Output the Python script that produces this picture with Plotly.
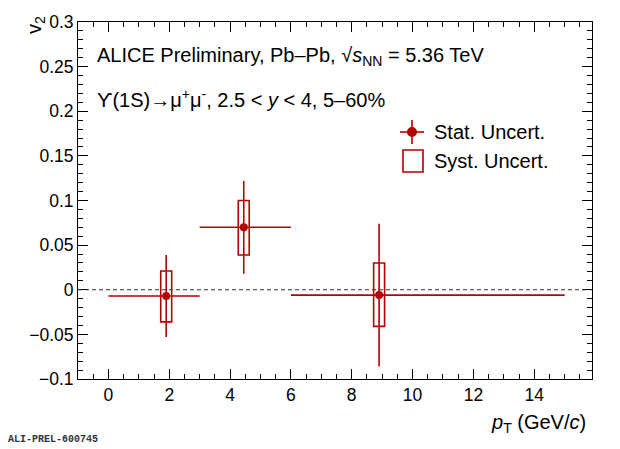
import plotly.graph_objects as go

pt = [1.9, 4.45, 8.9]
pt_lo = [0.0, 3.0, 6.0]
pt_hi = [3.0, 6.0, 15.0]
v2 = [-0.007, 0.070, -0.006]
stat = [0.046, 0.052, 0.080]
syst_lo = [-0.036, 0.039, -0.041]
syst_hi = [0.021, 0.100, 0.030]
syst_hw = 0.18

y_ticks = [-0.1, -0.05, 0, 0.05, 0.1, 0.15, 0.2, 0.25, 0.3]
y_labels = ["−0.1", "−0.05", "0", "0.05", "0.1", "0.15", "0.2", "0.25", "0.3"]
x_ticks = [0, 2, 4, 6, 8, 10, 12, 14]

red = "#b30000"
fig = go.Figure()

fig.add_shape(type="line", x0=-1, x1=15.9, y0=0, y1=0,
              line=dict(color="#333", width=1, dash="4px,3px"))
for x, lo, hi in zip(pt, syst_lo, syst_hi):
    fig.add_shape(type="rect", x0=x - syst_hw, x1=x + syst_hw, y0=lo, y1=hi,
                  line=dict(color=red, width=1.6))

fig.add_trace(go.Scatter(
    x=pt, y=v2, mode="markers",
    marker=dict(color=red, size=8),
    error_y=dict(type="data", array=stat, color=red, thickness=1.6, width=0),
    error_x=dict(type="data", symmetric=False,
                 array=[h - x for h, x in zip(pt_hi, pt)],
                 arrayminus=[x - l for l, x in zip(pt_lo, pt)],
                 color=red, thickness=1.6, width=0),
    showlegend=False))

axis = dict(showline=True, linecolor="black", linewidth=1, mirror="ticks",
            ticks="inside", ticklen=10, tickcolor="black", showgrid=False,
            zeroline=False, tickfont=dict(size=17.5, color="black"),
            minor=dict(ticks="inside", ticklen=5, tickcolor="black"))
fig.update_xaxes(range=[-1, 15.9], tickvals=x_ticks, ticktext=[str(v) for v in x_ticks],
                 **axis)
fig.update_yaxes(range=[-0.1, 0.3], tickvals=y_ticks, ticktext=y_labels, **axis)
fig.update_xaxes(minor=dict(dtick=0.5))
fig.update_yaxes(minor=dict(dtick=0.01))

ann = [
    dict(x=95, y=57, text="ALICE Preliminary, Pb–Pb, √<i>s</i><sub>NN</sub> = 5.36 TeV", size=20),
    dict(x=95, y=98, text="ϒ(1S)→μ<sup>+</sup>μ<sup>-</sup>, 2.5 < <i>y</i> < 4, 5–60%", size=20),
    dict(x=432, y=132, text="Stat. Uncert.", size=20),
    dict(x=432, y=161, text="Syst. Uncert.", size=20),
]
for a in ann:
    fig.add_annotation(xref="paper", yref="paper", x=(a["x"] - 78) / 514,
                       y=1 - (a["y"] - 22) / 357, text=a["text"], showarrow=False,
                       xanchor="left", yanchor="middle", font=dict(size=a["size"], color="black"))

fig.add_annotation(xref="paper", yref="paper", x=(588 - 78) / 514, y=-44 / 357,
                   text="<i>p</i><sub>T</sub> (GeV/<i>c</i>)", showarrow=False,
                   xanchor="right", yanchor="middle", font=dict(size=20, color="black"))
fig.add_annotation(xref="paper", yref="paper", x=-43 / 514, y=1 + 8 / 357,
                   text="v<sub>2</sub>", showarrow=False, textangle=-90,
                   xanchor="center", yanchor="top", font=dict(size=20, color="black"))
fig.add_annotation(xref="paper", yref="paper", x=-72 / 514, y=-60 / 357,
                   text="<b>ALI-PREL-600745</b>", showarrow=False,
                   xanchor="left", yanchor="middle",
                   font=dict(size=10, color="#333", family="Liberation Mono"))

# legend symbols
lx = (412 - 78) / 514
fig.add_shape(type="line", xref="paper", yref="paper", x0=(400 - 78) / 514, x1=(424 - 78) / 514,
              y0=1 - 110 / 357, y1=1 - 110 / 357, line=dict(color=red, width=1.6))
fig.add_shape(type="line", xref="paper", yref="paper", x0=lx, x1=lx,
              y0=1 - 98 / 357, y1=1 - 122 / 357, line=dict(color=red, width=1.6))
fig.add_shape(type="circle", xref="paper", yref="paper", x0=lx - 4 / 514, x1=lx + 4 / 514,
              y0=1 - 106 / 357, y1=1 - 114 / 357, line=dict(color=red), fillcolor=red)
fig.add_shape(type="rect", xref="paper", yref="paper", x0=(403 - 78) / 514, x1=(423 - 78) / 514,
              y0=1 - 128 / 357, y1=1 - 150 / 357, line=dict(color=red, width=1.6))

# page body adds 8px offset, so margins are shifted to keep the plot box in place
fig.update_layout(width=620, height=449, margin=dict(l=70, r=36, t=14, b=78, autoexpand=False),
                  plot_bgcolor="white", paper_bgcolor="white",
                  font=dict(family="Liberation Sans, Arial", color="black"))
fig.write_html("out.html")
